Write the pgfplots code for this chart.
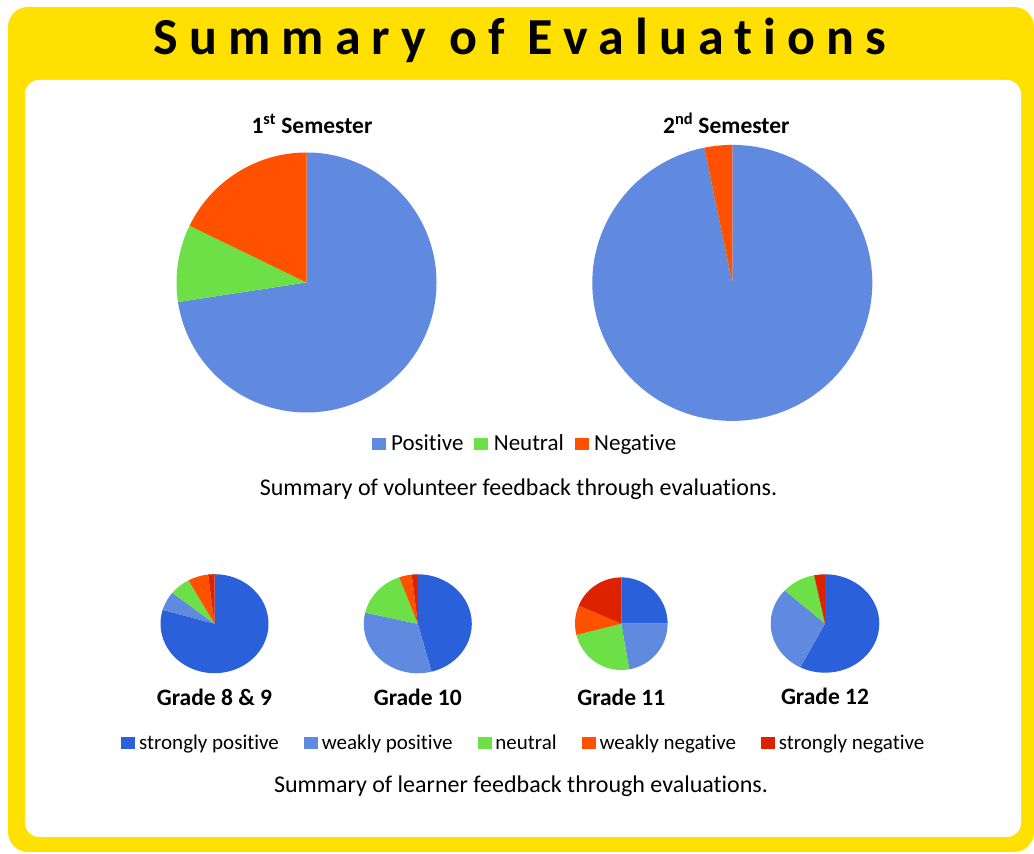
\documentclass[border=0pt]{standalone}
\usepackage{pgfplots}
\pgfplotsset{compat=1.18}
\usepackage{pgfplotstable}
\usepackage{fontspec}
\setmainfont{Carlito}[Ligatures=NoCommon]

\definecolor{yel}{HTML}{FFE000}
\definecolor{Pos}{HTML}{5F8AE0}
\definecolor{Neu}{HTML}{6CE046}
\definecolor{Neg}{HTML}{FF5100}
\definecolor{sPos}{HTML}{2B60DB}
\definecolor{wPos}{HTML}{5F8AE0}
\definecolor{Neut}{HTML}{6CE046}
\definecolor{wNeg}{HTML}{FF5100}
\definecolor{sNeg}{HTML}{DD2200}

% shares in percent, clockwise from 12 o'clock
\pgfplotstableread{
label value
Pos 72.6
Neu 9.6
Neg 17.8
}\semA
\pgfplotstableread{
label value
Pos 96.8
Neu 0
Neg 3.2
}\semB
\pgfplotstableread{
label value
sPos 79.5
wPos 6.2
Neut 6.3
wNeg 6.1
sNeg 1.9
}\gradeA
\pgfplotstableread{
label value
sPos 45.9
wPos 32.7
Neut 15.8
wNeg 3.8
sNeg 1.8
}\gradeB
\pgfplotstableread{
label value
sPos 25.0
wPos 22.3
Neut 23.8
wNeg 10.3
sNeg 18.6
}\gradeC
\pgfplotstableread{
label value
sPos 57.5
wPos 29.2
Neut 10.1
wNeg 0
sNeg 3.2
}\gradeD

\newcommand\drawpie[3]{%
  \pgfplotstablegetrowsof{#1}\pgfmathtruncatemacro\nrows{\pgfplotsretval-1}%
  \def\cum{0}%
  \pgfplotsforeachungrouped \i in {0,...,\nrows}{%
    \pgfplotstablegetelem{\i}{value}\of{#1}\let\val\pgfplotsretval
    \pgfplotstablegetelem{\i}{label}\of{#1}\let\col\pgfplotsretval
    \pgfmathsetmacro\sa{90-3.6*\cum}%
    \pgfmathsetmacro\ea{90-3.6*(\cum+\val)}%
    \pgfmathsetmacro\cum{\cum+\val}%
    \edef\cmd{\noexpand\fill[\col] (axis cs:0,0) -- (axis cs:{cos(\sa)},{sin(\sa)}) arc[start angle=\sa, end angle=\ea, x radius=#2pt, y radius=#3pt] -- cycle;}%
    \cmd
  }%
}

\pgfplotsset{pie/.style={anchor=center, hide axis, clip=false,
  xmin=-1,xmax=1,ymin=-1,ymax=1, every axis title shift=0pt,
  legend image code/.code={\fill[##1] (0pt,-5.5pt) rectangle (13pt,5.5pt);}}}

\begin{document}
\begin{tikzpicture}[x=1pt,y=1pt]
\useasboundingbox (0,0) rectangle (1034,854);
\fill[yel, rounded corners=20] (8,2) rectangle (1034,847);
\fill[white, rounded corners=14] (25,17) rectangle (1021,774);
\node[anchor=base, font=\bfseries\fontsize{52}{60}\selectfont\addfontfeatures{LetterSpace=21.5}] at (520,799) {Summary of Evaluations};

\begin{axis}[pie, at={(306.5pt,571.5pt)}, x=130pt, y=130pt,
  title={1\textsuperscript{st} Semester},
  title style={font=\bfseries\fontsize{23.5}{28}\selectfont, at={(0.5,1)}, anchor=base, yshift=19pt, xshift=5.5pt},
  legend columns=3,
  legend style={at={(1.3365,-0.119)}, anchor=center, draw=none, fill=none, inner sep=0pt,
    font=\fontsize{23}{27}\selectfont, nodes={inner sep=0pt},
    /tikz/every odd column/.append style={column sep=6pt},
    /tikz/every even column/.append style={column sep=11pt}}]
\drawpie{\semA}{130}{130}
\addlegendimage{Pos}\addlegendentry{Positive}
\addlegendimage{Neu}\addlegendentry{Neutral}
\addlegendimage{Neg}\addlegendentry{Negative}
\end{axis}

\begin{axis}[pie, at={(732.3pt,571.1pt)}, x=140pt, y=138pt,
  title={2\textsuperscript{nd} Semester},
  title style={font=\bfseries\fontsize{23.5}{28}\selectfont, at={(0.5,1)}, anchor=base, yshift=11pt, xshift=-6pt}]
\drawpie{\semB}{140}{138}
\end{axis}

\node[anchor=base, font=\fontsize{24}{28}\selectfont] at (518.5,358) {Summary of volunteer feedback through evaluations.};

\begin{axis}[pie, at={(214.5pt,230.3pt)}, x=54pt, y=49.5pt,
  title={Grade 8 \& 9},
  title style={font=\bfseries\fontsize{23.5}{28}\selectfont, at={(0.5,0)}, anchor=base, yshift=-32pt},
  legend columns=5,
  legend style={at={(3.355,-0.705)}, anchor=center, draw=none, fill=none, inner sep=0pt,
    font=\fontsize{21}{25}\selectfont, nodes={inner sep=0pt},
    /tikz/every odd column/.append style={column sep=4.5pt},
    /tikz/every even column/.append style={column sep=25pt}}]
\drawpie{\gradeA}{54}{49.5}
\addlegendimage{sPos}\addlegendentry{strongly positive}
\addlegendimage{wPos}\addlegendentry{weakly positive}
\addlegendimage{Neut}\addlegendentry{neutral}
\addlegendimage{wNeg}\addlegendentry{weakly negative}
\addlegendimage{sNeg}\addlegendentry{strongly negative}
\end{axis}

\begin{axis}[pie, at={(417.8pt,230.2pt)}, x=54pt, y=49.5pt,
  title={Grade 10},
  title style={font=\bfseries\fontsize{23.5}{28}\selectfont, at={(0.5,0)}, anchor=base, yshift=-32pt}]
\drawpie{\gradeB}{54}{49.5}
\end{axis}

\begin{axis}[pie, at={(621.3pt,230.3pt)}, x=46.3pt, y=46.3pt,
  title={Grade 11},
  title style={font=\bfseries\fontsize{23.5}{28}\selectfont, at={(0.5,0)}, anchor=base, yshift=-35.5pt}]
\drawpie{\gradeC}{46.3}{46.3}
\end{axis}

\begin{axis}[pie, at={(825pt,230.5pt)}, x=54.3pt, y=49.2pt,
  title={Grade 12},
  title style={font=\bfseries\fontsize{23.5}{28}\selectfont, at={(0.5,0)}, anchor=base, yshift=-32pt}]
\drawpie{\gradeD}{54.3}{49.2}
\end{axis}

\node[anchor=base, font=\fontsize{24}{28}\selectfont] at (521,61) {Summary of learner feedback through evaluations.};
\end{tikzpicture}
\end{document}
